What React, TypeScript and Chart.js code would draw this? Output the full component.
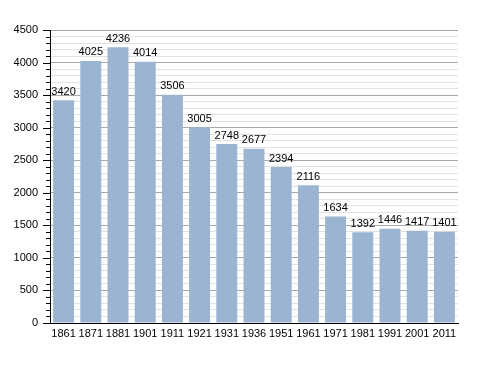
import React, { useEffect, useRef } from "react";
import { Chart, registerables } from "chart.js";

Chart.register(...registerables);

const years = ["1861", "1871", "1881", "1901", "1911", "1921", "1931", "1936", "1951", "1961", "1971", "1981", "1991", "2001", "2011"];
const population = [3420, 4025, 4236, 4014, 3506, 3005, 2748, 2677, 2394, 2116, 1634, 1392, 1446, 1417, 1401];
const yMax = 4500;
const majorStep = 500;
const minorStep = 100;

const FONT = "'Liberation Sans', Arial, sans-serif";

const valueLabels = {
  id: "valueLabels",
  afterDatasetsDraw(chart: any) {
    const ctx = chart.ctx;
    const meta = chart.getDatasetMeta(0);
    ctx.save();
    ctx.font = `11px ${FONT}`;
    ctx.fillStyle = "#000";
    ctx.textAlign = "center";
    ctx.textBaseline = "bottom";
    meta.data.forEach((bar: any, i: number) => {
      ctx.fillText(String(population[i]), bar.x, bar.y - 3);
    });
    ctx.restore();
  },
};

const yTickMarks = {
  id: "yTickMarks",
  afterDraw(chart: any) {
    const ctx = chart.ctx;
    const scale = chart.scales.y;
    const left = chart.chartArea.left;
    ctx.save();
    ctx.strokeStyle = "#000";
    ctx.lineWidth = 1;
    for (let v = 0; v <= yMax; v += minorStep) {
      const y = Math.round(scale.getPixelForValue(v)) + 0.5;
      const len = v % majorStep === 0 ? 7 : 4;
      ctx.beginPath();
      ctx.moveTo(left - len, y);
      ctx.lineTo(left, y);
      ctx.stroke();
    }
    ctx.restore();
  },
};

export default function App() {
  const ref = useRef<HTMLCanvasElement>(null);
  useEffect(() => {
    document.body.style.margin = "0";
    const chart = new Chart(ref.current!, {
      type: "bar",
      data: {
        labels: years,
        datasets: [
          {
            data: population,
            backgroundColor: "#9ab4d1",
            borderWidth: 0,
            categoryPercentage: 1,
            barPercentage: 0.77,
          },
        ],
      },
      options: {
        animation: false,
        responsive: false,
        layout: { padding: { top: 30, right: 30, bottom: 30, left: 0 } },
        plugins: { legend: { display: false }, tooltip: { enabled: false } },
        scales: {
          x: {
            grid: { display: false, drawTicks: false },
            border: { display: true, color: "#000", width: 1 },
            ticks: { color: "#000", font: { family: FONT, size: 11 }, padding: 4, maxRotation: 0, autoSkip: false },
            afterFit(scale: any) {
              scale.height = 20;
            },
          },
          y: {
            min: 0,
            max: yMax,
            grid: {
              drawTicks: false,
              color: (c: any) => (c.tick && c.tick.value % majorStep === 0 ? "#a8a8a8" : "#e2e2e2"),
            },
            border: { display: true, color: "#000", width: 1 },
            ticks: {
              stepSize: minorStep,
              autoSkip: false,
              color: "#000",
              padding: 12,
              font: { family: FONT, size: 11 },
              callback: (v: any) => (Number(v) % majorStep === 0 ? String(v) : ""),
            },
            afterFit(scale: any) {
              scale.width = 50;
            },
          },
        },
      },
      plugins: [valueLabels, yTickMarks],
    });
    return () => chart.destroy();
  }, []);
  return <canvas ref={ref} width={488} height={373} style={{ display: "block" }} />;
}
